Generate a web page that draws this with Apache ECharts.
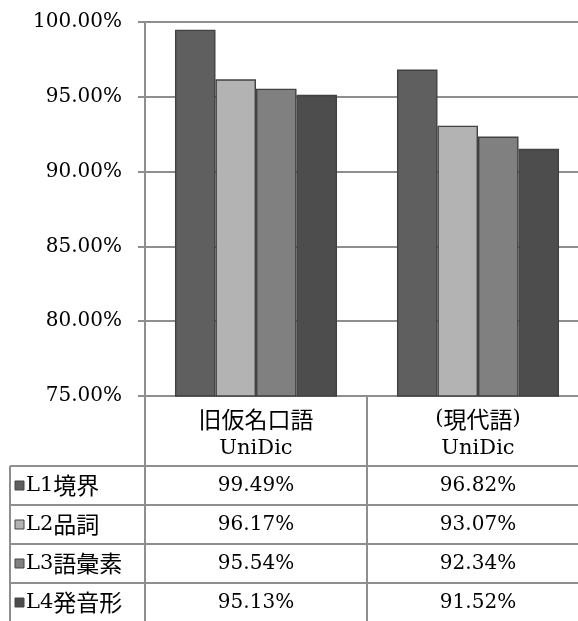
<!DOCTYPE html>
<html>
<head>
<meta charset="utf-8">
<script src="https://cdn.jsdelivr.net/npm/echarts@6/dist/echarts.min.js"></script>
<style>
  html, body { margin: 0; padding: 0; background: #fff; overflow: hidden; }
  #chart { width: 600px; height: 621px; }
</style>
</head>
<body>
<div id="chart"></div>
<script>
// Tagging accuracy by evaluation level for two dictionaries
const categories = ['旧仮名口語\nUniDic', '(現代語)\nUniDic'];
const seriesNames = ['L1境界', 'L2品詞', 'L3語彙素', 'L4発音形'];
const L1 = [99.49, 96.82];
const L2 = [96.17, 93.07];
const L3 = [95.54, 92.34];
const L4 = [95.13, 91.52];
const seriesValues = [L1, L2, L3, L4];
const seriesColors = ['#5f5f5f', '#b3b3b3', '#808080', '#4d4d4d'];
const yMin = 75, yMax = 100, yStep = 5;

const SERIF = "'DejaVu Serif', serif";
const JP = "'Noto Sans CJK JP', sans-serif";
const LINE = '#8e8e8e';
const fmt = v => v.toFixed(2) + '%';
// wrap Japanese runs so they use the CJK face at its own size
const richify = s => s.replace(/([\u3000-\u9fff\uff00-\uffef]+)/g, '{j|$1}');
const jpStyle = { fontFamily: JP, fontSize: 23, color: '#000', lineHeight: 30 };

const chart = echarts.init(document.getElementById('chart'), null, { renderer: 'canvas' });

const GRID = { left: 145, top: 22, width: 444, height: 374 };

chart.setOption({
  animation: false,
  backgroundColor: '#ffffff',
  grid: Object.assign({ outerBoundsMode: 'none', containLabel: false }, GRID),
  xAxis: {
    type: 'category',
    data: categories,
    axisLine: { show: true, lineStyle: { color: LINE, width: 2 } },
    // category boundary ticks run down to form the table's column rules
    axisTick: { show: true, alignWithLabel: false, length: 240, lineStyle: { color: LINE, width: 2 } },
    axisLabel: {
      margin: 8, color: '#000', fontFamily: SERIF, fontSize: 21, lineHeight: 30,
      interval: 0,
      formatter: v => richify(v),
      rich: { j: jpStyle }
    }
  },
  yAxis: {
    type: 'value',
    min: yMin, max: yMax, interval: yStep,
    axisLine: { show: true, lineStyle: { color: LINE, width: 2 } },
    axisTick: { show: true, length: 7, lineStyle: { color: LINE, width: 2 } },
    splitLine: { show: true, lineStyle: { color: LINE, width: 2 } },
    axisLabel: { margin: 23, color: '#000', fontFamily: SERIF, fontSize: 20, formatter: fmt }
  },
  series: seriesNames.map((name, i) => ({
    name: name,
    type: 'bar',
    data: seriesValues[i],
    barGap: '0%',
    barCategoryGap: '27%',
    itemStyle: { color: seriesColors[i], borderColor: '#424242', borderWidth: 1.4 }
  }))
});

// Data table under the plot, built from the same arrays
function drawTable() {
  const rowTop0 = GRID.top + GRID.height + 70;
  const rowH = 39;
  const leftX = 10;
  const rightX = GRID.left + GRID.width;
  const els = [];
  els.push({
    type: 'line', silent: true,
    shape: { x1: leftX, y1: rowTop0, x2: leftX, y2: 640 },
    style: { stroke: LINE, lineWidth: 2 }
  });
  seriesNames.forEach((name, r) => {
    const top = rowTop0 + r * rowH;
    const cy = top + rowH / 2;
    els.push({
      type: 'line', silent: true,
      shape: { x1: leftX, y1: top, x2: rightX, y2: top },
      style: { stroke: LINE, lineWidth: 2 }
    });
    els.push({
      type: 'rect', silent: true,
      shape: { x: 15, y: cy - 4.5, width: 9, height: 9 },
      style: { fill: seriesColors[r], stroke: '#444', lineWidth: 1 }
    });
    els.push({
      type: 'text', silent: true,
      style: {
        x: 26, y: cy, text: richify(name),
        fontFamily: SERIF, fontSize: 21, fill: '#000',
        align: 'left', verticalAlign: 'middle',
        rich: { j: { fontFamily: JP, fontSize: 23, fill: '#000' } }
      }
    });
    seriesValues[r].forEach((v, c) => {
      const px = chart.convertToPixel({ xAxisIndex: 0 }, c);
      els.push({
        type: 'text', silent: true,
        style: {
          x: px, y: cy, text: fmt(v),
          fontFamily: SERIF, fontSize: 20, fill: '#000',
          align: 'center', verticalAlign: 'middle'
        }
      });
    });
  });
  chart.setOption({ graphic: els });
}
drawTable();
</script>
</body>
</html>
